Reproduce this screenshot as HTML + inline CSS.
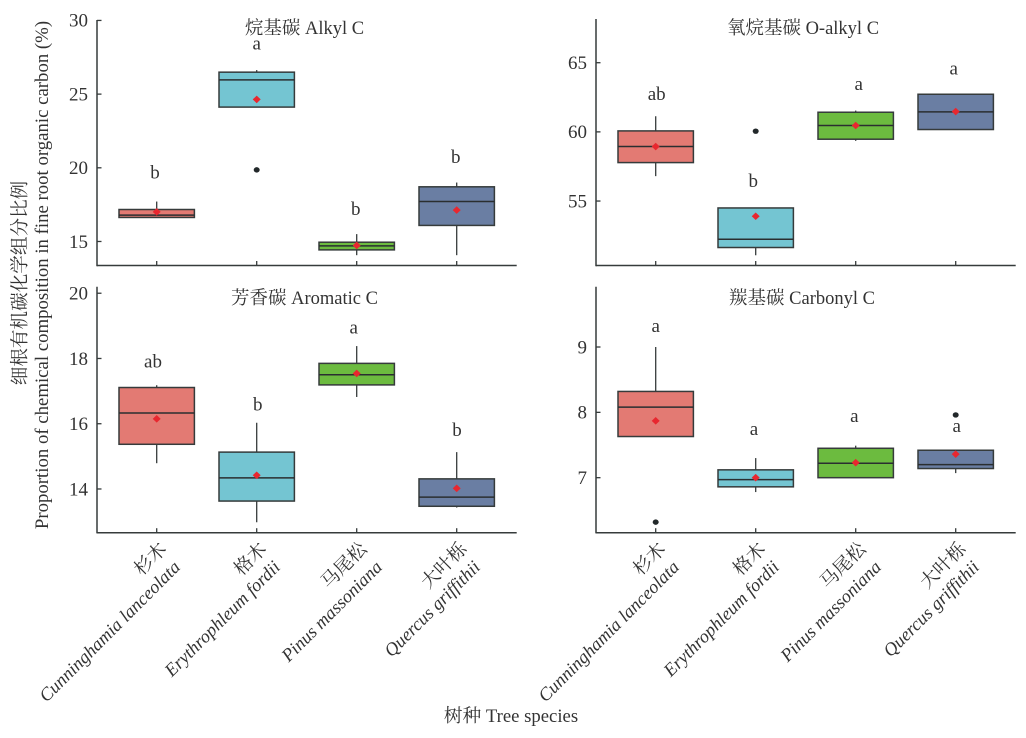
<!DOCTYPE html>
<html lang="zh">
<head>
<meta charset="utf-8">
<title>细根有机碳化学组分比例 Boxplots</title>
<style>
html,body{margin:0;padding:0;background:#fff;}
svg{display:block;}
text{font-family:"Liberation Serif","Noto Serif CJK SC",serif;fill:#333;font-size:18.5px;}
.it{font-style:italic;font-size:18.3px;}
.tk{font-size:19px;}
</style>
</head>
<body>
<svg id="chart" width="1026" height="738" viewBox="0 0 1026 738" xmlns="http://www.w3.org/2000/svg">
  <text x="26" y="283" transform="rotate(-90 26 283)" text-anchor="middle" style="font-size:18.6px">细根有机碳化学组分比例</text>
  <text x="48" y="275" transform="rotate(-90 48 275)" text-anchor="middle" style="font-size:18.8px">Proportion of chemical composition in fine root organic carbon (%)</text>
  <text x="511" y="722" text-anchor="middle" style="font-size:18.7px">树种 Tree species</text>
  <g id="panel-alkyl">
    <text x="304.5" y="34" text-anchor="middle">烷基碳 Alkyl C</text>
  </g>
  <g id="panel-oalkyl">
    <text x="803" y="34" text-anchor="middle">氧烷基碳 O-alkyl C</text>
  </g>
  <g id="panel-aromatic">
    <text x="304.5" y="304" text-anchor="middle">芳香碳 Aromatic C</text>
  </g>
  <g id="panel-carbonyl">
    <text x="802" y="304" text-anchor="middle">羰基碳 Carbonyl C</text>
  </g>
</svg>
<script>
const categoriesCn = ['杉木', '格木', '马尾松', '大叶栎'];
const categoriesLatin = ['Cunninghamia lanceolata', 'Erythrophleum fordii', 'Pinus massoniana', 'Quercus griffithii'];
const seriesColors = ['#e37a73', '#74c5d2', '#6cbb3f', '#6a7ea3'];

const alkylTicks = [15, 20, 25, 30];
const alkylQ1 = [16.63, 24.12, 14.43, 16.09];
const alkylMedian = [16.79, 25.97, 14.7, 17.71];
const alkylQ3 = [17.17, 26.49, 14.95, 18.71];
const alkylWhiskerLow = [16.63, 24.12, 14.07, 14.07];
const alkylWhiskerHigh = [17.71, 26.63, 15.5, 19.0];
const alkylMean = [17.01, 24.64, 14.73, 17.13];
const alkylOutliers = [null, 19.86, null, null];
const alkylLetters = ['b', 'a', 'b', 'b'];
const alkylLetterLevels = [19.28, 28.03, 16.79, 20.34];

const oAlkylTicks = [55, 60, 65];
const oAlkylQ1 = [57.78, 51.64, 59.47, 60.17];
const oAlkylMedian = [58.94, 52.24, 60.46, 61.45];
const oAlkylQ3 = [60.07, 54.5, 61.42, 62.72];
const oAlkylWhiskerLow = [56.8, 51.08, 59.35, 60.17];
const oAlkylWhiskerHigh = [61.13, 54.5, 61.54, 62.77];
const oAlkylMean = [58.94, 53.9, 60.46, 61.47];
const oAlkylOutliers = [null, 60.05, null, null];
const oAlkylLetters = ['ab', 'b', 'a', 'a'];
const oAlkylLetterLevels = [62.29, 56.02, 63.01, 64.14];

const aromaticTicks = [14, 16, 18, 20];
const aromaticQ1 = [15.37, 13.63, 17.19, 13.47];
const aromaticMedian = [16.33, 14.34, 17.5, 13.75];
const aromaticQ3 = [17.11, 15.13, 17.85, 14.31];
const aromaticWhiskerLow = [14.79, 12.98, 16.82, 13.43];
const aromaticWhiskerHigh = [17.18, 16.03, 18.38, 15.13];
const aromaticMean = [16.15, 14.42, 17.54, 14.02];
const aromaticOutliers = [null, null, null, null];
const aromaticLetters = ['ab', 'b', 'a', 'b'];
const aromaticLetterLevels = [17.72, 16.41, 18.77, 15.62];

const carbonylTicks = [7, 8, 9];
const carbonylQ1 = [7.63, 6.86, 7.0, 7.14];
const carbonylMedian = [8.08, 6.97, 7.22, 7.2];
const carbonylQ3 = [8.32, 7.12, 7.45, 7.42];
const carbonylWhiskerLow = [7.63, 6.78, 7.0, 7.07];
const carbonylWhiskerHigh = [9.0, 7.3, 7.49, 7.42];
const carbonylMean = [7.87, 7.0, 7.23, 7.36];
const carbonylOutliers = [6.32, null, null, 7.96];
const carbonylLetters = ['a', 'a', 'a', 'a'];
const carbonylLetterLevels = [9.23, 7.65, 7.85, 7.7];

const SVG_NS = 'http://www.w3.org/2000/svg';
const INK = '#363b3b';

function svgEl(parent, tag, attrs, text) {
  const el = document.createElementNS(SVG_NS, tag);
  for (const k in attrs) el.setAttribute(k, attrs[k]);
  if (text !== undefined) el.textContent = text;
  parent.appendChild(el);
  return el;
}

function drawPanel(cfg) {
  const root = document.getElementById(cfg.id);
  const yScale = v => cfg.bottom - (v - cfg.yMin) / (cfg.yMax - cfg.yMin) * (cfg.bottom - cfg.top);
  const xScale = i => cfg.left + 59.7 + i * 100;
  const halfBox = 37.7;

  const yAxis = svgEl(root, 'line', {x1: cfg.left, x2: cfg.left, y1: cfg.top, y2: cfg.bottom + 0.7, stroke: INK, 'stroke-width': 1.5});
  
  
  const xAxis = svgEl(root, 'line', {x1: cfg.left, x2: cfg.left + 419.7, y1: cfg.bottom, y2: cfg.bottom, stroke: INK, 'stroke-width': 1.5});
  
  

  cfg.ticks.forEach(t => {
    const y = yScale(t);
    const tick = svgEl(root, 'line', {x1: cfg.left, x2: cfg.left + 4.5, y1: y, y2: y, stroke: INK, 'stroke-width': 1.3});
    
    
    const label = svgEl(root, 'text', {'class': 'tk', x: cfg.left - 9, y: y + 6.3, 'text-anchor': 'end'}, String(t));
    
    
  });

  categoriesCn.forEach((name, i) => {
    const x = xScale(i);
    const c = svgEl(root, 'g', {});
    
    

    const tick = svgEl(c, 'line', {x1: x, x2: x, y1: cfg.bottom - 4.5, y2: cfg.bottom, stroke: INK, 'stroke-width': 1.3});
    
    

    const whisker = svgEl(c, 'line', {x1: x, x2: x, y1: yScale(cfg.whiskerHigh[i]), y2: yScale(cfg.whiskerLow[i]), stroke: INK, 'stroke-width': 1.3});
    
    

    const yQ3 = yScale(cfg.q3[i]);
    const yQ1 = yScale(cfg.q1[i]);
    const box = svgEl(c, 'rect', {x: x - halfBox, y: yQ3, width: 2 * halfBox, height: yQ1 - yQ3, fill: seriesColors[i], stroke: INK, 'stroke-width': 1.5});
    
    

    const yMed = yScale(cfg.median[i]);
    const median = svgEl(c, 'line', {x1: x - halfBox, x2: x + halfBox, y1: yMed, y2: yMed, stroke: '#2a2e30', 'stroke-width': 1.5});
    
    

    const my = yScale(cfg.mean[i]);
    const mean = svgEl(c, 'polygon', {points: [x - 4, my, x, my - 3.8, x + 4, my, x, my + 3.8].join(','), fill: '#e8272f'});
    
    

    if (cfg.outliers[i] !== null) {
      const dot = svgEl(c, 'ellipse', {cx: x, cy: yScale(cfg.outliers[i]), rx: 3, ry: 2.7, fill: '#22282a'});
      
      
    }

    const letter = svgEl(c, 'text', {'class': 'tk', x: x + cfg.letterNudge[i], y: yScale(cfg.letterLevels[i]), 'text-anchor': 'middle'}, cfg.letters[i]);
    
    

    if (cfg.showLabels) {
      const labelCn = svgEl(c, 'text', {'text-anchor': 'end', transform: 'translate(' + (x + 11) + ',' + (cfg.bottom + 17.5) + ') rotate(-45)'}, name);
      
      
      const labelLatin = svgEl(c, 'text', {'class': 'it', 'text-anchor': 'end', transform: 'translate(' + (x + 24.5 + (i === 2 ? 2 : 0)) + ',' + (cfg.bottom + 35.5) + ') rotate(-45)'}, categoriesLatin[i]);
      
      
    }
  });
}

drawPanel({id: 'panel-alkyl', left: 97, top: 20, bottom: 265.5, yMin: 13.37, yMax: 30.03, ticks: alkylTicks,
  q1: alkylQ1, median: alkylMedian, q3: alkylQ3, whiskerLow: alkylWhiskerLow, whiskerHigh: alkylWhiskerHigh,
  mean: alkylMean, outliers: alkylOutliers, letters: alkylLetters, letterLevels: alkylLetterLevels,
  letterNudge: [-1.7, 0, -1, -1], showLabels: false});
drawPanel({id: 'panel-oalkyl', left: 596, top: 19, bottom: 265.5, yMin: 50.34, yMax: 68.16, ticks: oAlkylTicks,
  q1: oAlkylQ1, median: oAlkylMedian, q3: oAlkylQ3, whiskerLow: oAlkylWhiskerLow, whiskerHigh: oAlkylWhiskerHigh,
  mean: oAlkylMean, outliers: oAlkylOutliers, letters: oAlkylLetters, letterLevels: oAlkylLetterLevels,
  letterNudge: [1, -2.4, 3, -2], showLabels: false});
drawPanel({id: 'panel-aromatic', left: 97, top: 286.7, bottom: 532.7, yMin: 12.66, yMax: 20.2, ticks: aromaticTicks,
  q1: aromaticQ1, median: aromaticMedian, q3: aromaticQ3, whiskerLow: aromaticWhiskerLow, whiskerHigh: aromaticWhiskerHigh,
  mean: aromaticMean, outliers: aromaticOutliers, letters: aromaticLetters, letterLevels: aromaticLetterLevels,
  letterNudge: [-3.7, 1, -3, 0.3], showLabels: true});
drawPanel({id: 'panel-carbonyl', left: 596, top: 286.7, bottom: 532.7, yMin: 6.158, yMax: 9.923, ticks: carbonylTicks,
  q1: carbonylQ1, median: carbonylMedian, q3: carbonylQ3, whiskerLow: carbonylWhiskerLow, whiskerHigh: carbonylWhiskerHigh,
  mean: carbonylMean, outliers: carbonylOutliers, letters: carbonylLetters, letterLevels: carbonylLetterLevels,
  letterNudge: [0, -1.7, -1.4, 1], showLabels: true});
</script>
</body>
</html>
